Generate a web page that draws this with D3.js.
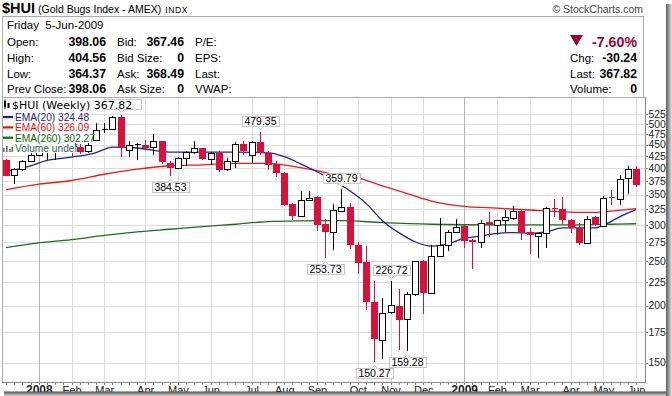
<!DOCTYPE html>
<html lang="en">
<head>
<meta charset="UTF-8">
<title>$HUI weekly</title>
<script src="https://d3js.org/d3.v7.min.js"></script>
<style>
    body { margin: 0; padding: 0; background: #fff; }
    svg { display: block; font-family: "Liberation Sans", Arial, sans-serif; }
</style>
</head>
<body>
<svg id="chart" width="672" height="396"></svg>
<script>
// weekly bars, week of 10-Dec-2007 .. week of 1-Jun-2009
const opens  = [418,386,398,415,428,443,450,455,463,446,436,461,485,487,518,439,449,450,445,458,
                411,401,422,434,442,419,432,397,414,452,428,457,433,408,390,334,314,341,346,302,
                290,323,329,272,249,204,168,194,200,187,212,250,213,257,271,290,299,279,276,305,
                300,308,311,323,290,284,288,327,325,308,296,275,312,300,346,343,380,398.06];
const highs  = [420,400,417,443,447,458,462,470,466,452,455,502,502,520,522,460,455,461,475,460,
                414,423,436,458,444,434,436,421,456,459,458,479.35,436,414,392,336,356,357,347,309,
                334,359.79,336,275,270,226,208,226.72,218,214,251,252,272,311,293,310,300,280,308,320,
                308,324,330,325,296,289,329,342,346,309,304,314,314,348,359,387,404,404.56];
const lows   = [384,370,394,412,425,416,417,440,423,430,432,458,478,485,424,424,417,441,428,409,
                384.53,398,405,430,417,406,393,395,400,428,411,428,397,382,330,308,313,339,292,253.73,
                265,321,266,234,196,150.27,153,192,160,159.28,210,192,212,255,264,289,267,241,268,282,
                286,290,308,278,259,254,267,312,302,289,272,274,299,298,332,333,352,364.37];
const closes = [386,398,415,428,443,450,455,463,446,434,450,485,487,518,444,450,451,443,458,411,
                401,422,434,442,419,431,397,414,452,436,456,433,407,390,332,315,340,344,300,290,
                324,329,272,248,203,169,193,201,186,212,250,213,257,271,290,298,277,276,304,300,
                308,312,322,289,285,288,327,325,308,296,275,310,300,345,344,379,398.06,367.82];

const monthLabels = ["2008","Feb","Mar","Apr","May","Jun","Jul","Aug","Sep","Oct","Nov","Dec",
                     "2009","Feb","Mar","Apr","May","Jun"];
const monthBars = [4,8,12,17,21,25,30,34,38,43,47,51,56,60,64,69,73,77];
const priceTicks = [525,500,475,450,425,400,375,350,325,300,275,250,225,200,175,150];

const ema20Bars = [0,3,5,8,11,13,16,20,24,28,32,34,36,38,40,42,44,46,48,50,52,54,56,58,60,62,64,66,68,70,72,73,75,77];
const ema20 = [393,405,416,423,433,445,443,434,434,434,432,424,409,393,376,357,335,307,289,276,
               270,273,281,284,288,289,288,290,296,296,296,300,313,324.48];
const ema60Bars = [0,4,8,12,16,20,24,28,32,36,38,40,43,46,48,52,56,60,64,68,72,74,77];
const ema60 = [359,369,376,388,398,405,407,410,410,401,395,388,381,366,357,339,330,327,324,321,320,322,326.09];
const ema260Bars = [0,3,8,12,16,20,24,28,32,36,41,46,52,60,68,74,77];
const ema260 = [268,273,279,285,290,294,298,301.5,305.5,306.6,307,304,301.5,300.4,300.4,301.5,302.27];

const peakBars = [14,31,41,47];
const troughBars = [20,39,45,49];

const svg = d3.select("#chart");
const red = "#d8103c";

// ---- header ----
const title = svg.append("text").attr("x", 2).attr("y", 13);
title.append("tspan").attr("font-weight", "bold").attr("font-size", 14.5).text("$HUI");
title.append("tspan").attr("font-size", 10.5).attr("dx", 3).text("(Gold Bugs Index - AMEX)");
title.append("tspan").attr("font-size", 8.5).attr("dx", 4).attr("letter-spacing", 0.6).text("INDX");

svg.append("text").attr("x", 643).attr("y", 13).attr("text-anchor", "end")
    .attr("font-size", 10.5).attr("fill", "#444").text("\u00A9 StockCharts.com");

svg.append("rect").attr("x", 2.5).attr("y", 16.5).attr("width", 641).attr("height", 81)
    .attr("fill", "none").attr("stroke", "#aaa");

const rowsY = [46, 62, 77.5, 93];
svg.append("text").attr("x", 7).attr("y", 29).attr("font-size", 11.5).text("Friday  5-Jun-2009")
    .style("white-space", "pre");

const info = [
    ["Open:", "398.06", "Bid:", "367.46", "P/E:"],
    ["High:", "404.56", "Bid Size:", "0", "EPS:"],
    ["Low:", "364.37", "Ask:", "368.49", "Last:"],
    ["Prev Close:", "398.06", "Ask Size:", "0", "VWAP:"]
];
info.forEach((r, k) => {
    const yy = rowsY[k];
    svg.append("text").attr("x", 7).attr("y", yy).attr("font-size", 11.5).text(r[0]);
    svg.append("text").attr("x", 106).attr("y", yy).attr("font-size", 12.3).attr("font-weight", "bold")
        .attr("text-anchor", "end").text(r[1]);
    svg.append("text").attr("x", 117).attr("y", yy).attr("font-size", 11.5).text(r[2]);
    svg.append("text").attr("x", 184).attr("y", yy).attr("font-size", 12.3).attr("font-weight", "bold")
        .attr("text-anchor", "end").text(r[3]);
    svg.append("text").attr("x", 195).attr("y", yy).attr("font-size", 11.5).text(r[4]);
});

svg.append("path").attr("d", "M570,35 L583,35 L576.5,46 Z").attr("fill", "#990033");
svg.append("text").attr("x", 637).attr("y", 46.5).attr("text-anchor", "end").attr("font-size", 14.2)
    .attr("font-weight", "bold").attr("fill", "#990033").text("-7.60%");
[["Chg:", "-30.24"], ["Last:", "367.82"], ["Volume:", "0"]].forEach((r, k) => {
    const yy = rowsY[k + 1];
    svg.append("text").attr("x", 570).attr("y", yy).attr("font-size", 11.5).text(r[0]);
    svg.append("text").attr("x", 637).attr("y", yy).attr("font-size", 12.3).attr("font-weight", "bold")
        .attr("text-anchor", "end").text(r[1]);
});

// ---- chart ----
const x = d3.scaleLinear().domain([-0.5, 78.1]).range([2, 645]);
const y = d3.scaleLog().domain([136, 573]).range([382, 97]);

const grid = svg.append("g").attr("shape-rendering", "crispEdges");
grid.selectAll("line.h").data(priceTicks).enter().append("line")
    .attr("x1", 2).attr("x2", 645)
    .attr("y1", d => Math.round(y(d)) + 0.5).attr("y2", d => Math.round(y(d)) + 0.5)
    .attr("stroke", "#dcdcdc");
grid.selectAll("line.v").data(monthBars).enter().append("line")
    .attr("x1", d => Math.round(x(d)) + 0.5).attr("x2", d => Math.round(x(d)) + 0.5)
    .attr("y1", 97).attr("y2", 382)
    .attr("stroke", (d, i) => /^\d/.test(monthLabels[i]) ? "#b4b4b4" : "#dcdcdc");

// EMA overlays
const line = d3.line().x(d => x(d[0])).y(d => y(d[1])).curve(d3.curveMonotoneX);
const overlays = [
    [ema260Bars, ema260, "#1f6e1f"],
    [ema60Bars, ema60, "#f01818"],
    [ema20Bars, ema20, "#23238f"]
];
overlays.forEach(o => {
    svg.append("path").datum(o[0].map((b, i) => [b, o[1][i]]))
        .attr("d", line).attr("fill", "none").attr("stroke", o[2]).attr("stroke-width", 1.3);
});

// candles
const bars = closes.map((c, i) => ({ i, o: opens[i], h: highs[i], l: lows[i], c }));
const cg = svg.append("g").attr("shape-rendering", "crispEdges");
bars.forEach(d => {
    const cx = Math.round(x(d.i));
    const up = d.c >= d.o;
    const col = up ? "#000" : red;
    cg.append("line").attr("x1", cx + 0.5).attr("x2", cx + 0.5)
        .attr("y1", y(d.h)).attr("y2", y(d.l)).attr("stroke", col);
    const top = y(Math.max(d.o, d.c)), bot = y(Math.min(d.o, d.c));
    if (bot - top < 1.5) {
        cg.append("line").attr("x1", cx - 2.5).attr("x2", cx + 3.5)
            .attr("y1", Math.round(top) + 0.5).attr("y2", Math.round(top) + 0.5)
            .attr("stroke", col).attr("stroke-width", 1.5);
    } else if (up) {
        cg.append("rect").attr("x", cx - 2.5).attr("y", Math.round(top) + 0.5)
            .attr("width", 6).attr("height", Math.round(bot - top))
            .attr("fill", "#fff").attr("stroke", "#000");
    } else {
        cg.append("rect").attr("x", cx - 3).attr("y", Math.round(top))
            .attr("width", 7).attr("height", Math.max(2, Math.round(bot - top)))
            .attr("fill", red);
    }
});

// peak / trough labels
function tag(i, val, above, showText) {
    const cx = Math.round(x(i)) + 0.5;
    const g = svg.append("g");
    const t = g.append("text").attr("font-size", 10.5).attr("text-anchor", "middle")
        .attr("x", cx).text(showText ? d3.format(".2f")(val) : "");
    const w = showText ? t.node().getComputedTextLength() + 5 : 39;
    const ty = y(val);
    const by = above ? Math.round(ty - 6 - 10) + 0.5 : Math.round(ty + 6) + 0.5;
    g.insert("rect", "text").attr("x", Math.round(cx - w / 2) + 0.5).attr("y", by)
        .attr("width", Math.round(w)).attr("height", 10)
        .attr("fill", "#fff").attr("stroke", "#c8c8c8");
    const py = above ? by + 10 : by;
    g.insert("path", "text").attr("d", above
            ? `M${cx - 3},${py} L${cx},${py + 3} L${cx + 3},${py}`
            : `M${cx - 3},${py} L${cx},${py - 3} L${cx + 3},${py}`)
        .attr("fill", "#fff").attr("stroke", "#c8c8c8");
    t.attr("y", by + 8.8);
}
peakBars.forEach(i => tag(i, highs[i], true, i !== 14));
troughBars.forEach(i => tag(i, lows[i], false, true));

// legend
const lg = svg.append("g");
const legendRows = [
    { text: "EMA(20) 324.48", color: "#1c1c8a", y: 121, line: "#1c1c8a" },
    { text: "EMA(60) 326.09", color: "#ee1111", y: 131.4, line: "#ee1111" },
    { text: "EMA(260) 302.27", color: "#116611", y: 141.7, line: "#116611" },
    { text: "Volume undef", color: "#2f5f50", y: 152, line: null }
];
lg.append("rect").attr("x", 2.5).attr("y", 98).attr("width", 101).attr("height", 13).attr("fill", "#fff");
legendRows.forEach(r => {
    lg.append("rect").attr("x", 2.5).attr("y", r.y - 9.5).attr("width", r.text.length * 5.2 + 10)
        .attr("height", 10.6).attr("fill", "#fff");
});
lg.append("rect").attr("x", 4).attr("y", 101).attr("width", 2).attr("height", 6).attr("fill", "#000");
lg.append("rect").attr("x", 7.5).attr("y", 103).attr("width", 2).attr("height", 5).attr("fill", "#000");
lg.append("line").attr("x1", 5).attr("x2", 5).attr("y1", 99.5).attr("y2", 109).attr("stroke", "#000");
lg.append("text").attr("x", 12).attr("y", 109).attr("font-family", "DejaVu Sans").attr("font-size", 11)
    .text("$HUI (Weekly) 367.82");
legendRows.forEach(r => {
    if (r.line) {
        lg.append("line").attr("x1", 3).attr("x2", 13).attr("y1", r.y - 4).attr("y2", r.y - 4)
            .attr("stroke", r.line).attr("stroke-width", 2.2);
    } else {
        [[3, 4], [6, 6], [9, 3], [11.5, 5]].forEach(b => lg.append("rect")
            .attr("x", b[0]).attr("y", r.y - b[1]).attr("width", 1.6).attr("height", b[1])
            .attr("fill", "#4d7766"));
    }
    lg.append("text").attr("x", 15).attr("y", r.y).attr("font-size", 10.2).attr("fill", r.color).text(r.text);
});

// frame and axes
const fr = svg.append("g").attr("shape-rendering", "crispEdges");
fr.append("line").attr("x1", 2.5).attr("x2", 2.5).attr("y1", 97).attr("y2", 382).attr("stroke", "#aaa");
fr.append("line").attr("x1", 2).attr("x2", 645).attr("y1", 97.5).attr("y2", 97.5).attr("stroke", "#aaa");
fr.append("line").attr("x1", 645.5).attr("x2", 645.5).attr("y1", 97).attr("y2", 382).attr("stroke", "#8a8a8a");
fr.append("line").attr("x1", 2).attr("x2", 646).attr("y1", 382.5).attr("y2", 382.5).attr("stroke", "#8a8a8a");
fr.selectAll("line.wt").data(bars).enter().append("line")
    .attr("x1", d => Math.round(x(d.i)) + 0.5).attr("x2", d => Math.round(x(d.i)) + 0.5)
    .attr("y1", 383).attr("y2", 385).attr("stroke", "#8a8a8a");
fr.selectAll("line.yt").data(priceTicks).enter().append("line")
    .attr("x1", 645).attr("x2", 648)
    .attr("y1", d => Math.round(y(d)) + 0.5).attr("y2", d => Math.round(y(d)) + 0.5)
    .attr("stroke", "#8a8a8a");

svg.selectAll("text.yl").data(priceTicks).enter().append("text")
    .attr("x", 648.5).attr("y", d => y(d) + 3.6).attr("font-size", 10.3).attr("fill", "#222")
    .text(d => d);

svg.selectAll("text.xl").data(monthBars).enter().append("text")
    .attr("x", d => x(d) + 0.5).attr("y", 394).attr("text-anchor", "middle")
    .attr("font-size", (d, i) => /^\d/.test(monthLabels[i]) ? 12 : 11)
    .attr("font-weight", (d, i) => /^\d/.test(monthLabels[i]) ? "bold" : "normal")
    .attr("fill", "#222")
    .text((d, i) => monthLabels[i]);

// drop shadow of the screenshot
const defs = svg.append("defs");
const gv = defs.append("linearGradient").attr("id", "shV").attr("x1", 0).attr("x2", 0).attr("y1", 0).attr("y2", 1);
gv.append("stop").attr("offset", 0).attr("stop-color", "#4a4a4a");
gv.append("stop").attr("offset", 1).attr("stop-color", "#d8d8d8");
const gh = defs.append("linearGradient").attr("id", "shH").attr("x1", 0).attr("x2", 1).attr("y1", 0).attr("y2", 0);
gh.append("stop").attr("offset", 0).attr("stop-color", "#5a5a5a");
gh.append("stop").attr("offset", 1).attr("stop-color", "#e4e4e4");
svg.append("rect").attr("x", 4).attr("y", 391.5).attr("width", 668).attr("height", 4.5).attr("fill", "url(#shV)");
svg.append("rect").attr("x", 666).attr("y", 4).attr("width", 6).attr("height", 392).attr("fill", "url(#shH)");
</script>
</body>
</html>
